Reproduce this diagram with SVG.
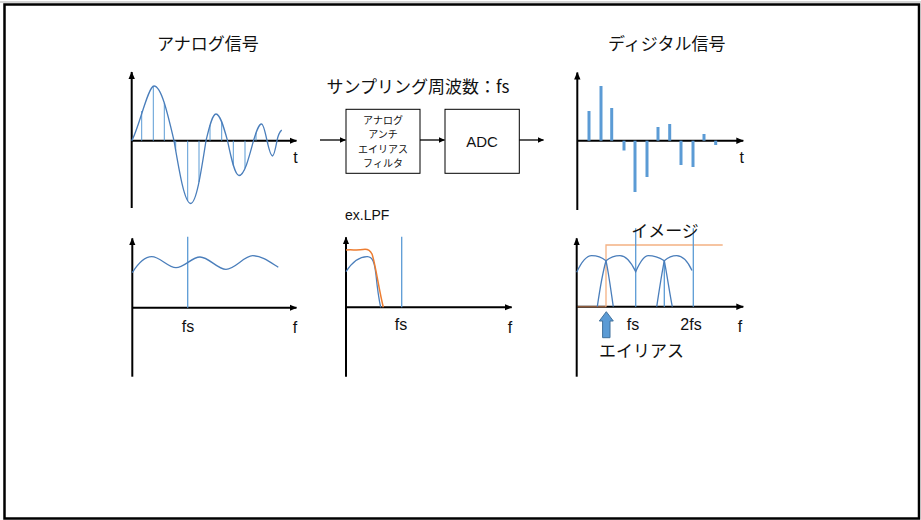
<svg xmlns="http://www.w3.org/2000/svg" width="921" height="520" viewBox="0 0 921 520">
<style>
.jp{font-family:"Noto Sans CJK JP","Noto Sans",sans-serif;fill:#111}
.lt{font-family:"Liberation Sans","Noto Sans",sans-serif;fill:#111}
.ax{stroke:#000;stroke-width:2;fill:none}
.wave{stroke:#4A7EBB;stroke-width:1.3;fill:none}
.samp{stroke:#5B9BD5;stroke-width:1;fill:none}
.bar{stroke:#5B9BD5;stroke-width:3;fill:none}
.vl{stroke:#5B9BD5;stroke-width:1.3;fill:none}
.box{fill:#fff;stroke:#000;stroke-width:1}
.conn{stroke:#000;stroke-width:1.3;fill:none}
</style>
<defs>
<marker id="ah" markerWidth="8" markerHeight="8" refX="7" refY="4" orient="auto" markerUnits="userSpaceOnUse"><path d="M0,0.8 L7.5,4 L0,7.2 z" fill="#000"/></marker>
<marker id="ahs" markerWidth="7" markerHeight="7" refX="6" refY="3.5" orient="auto" markerUnits="userSpaceOnUse"><path d="M0,0.6 L6.5,3.5 L0,6.4 z" fill="#000"/></marker>
</defs>
<rect width="921" height="520" fill="#fff"/>
<line x1="0" y1="2" x2="921" y2="2" stroke="#aaa" stroke-width="1"/>
<rect x="4.5" y="4.5" width="914.5" height="514" fill="none" stroke="#000" stroke-width="2.5"/>

<!-- titles -->
<text class="jp" x="157" y="50" font-size="17">アナログ信号</text>
<text class="jp" x="608" y="50" font-size="17">ディジタル信号</text>
<text class="jp" x="326.5" y="93" font-size="17">サンプリング周波数：fs</text>

<!-- analog signal -->
<g id="analog">
<line class="ax" x1="131.7" y1="208" x2="131.7" y2="72" marker-end="url(#ah)"/>
<line class="ax" x1="131.7" y1="140.7" x2="296.5" y2="140.7" marker-end="url(#ah)"/>
<g class="samp">
<line x1="141.7" y1="140.7" x2="141.7" y2="111"/>
<line x1="153.3" y1="140.7" x2="153.3" y2="86.2"/>
<line x1="164.3" y1="140.7" x2="164.3" y2="103"/>
<line x1="175.7" y1="140.7" x2="175.7" y2="150.7"/>
<line x1="187.7" y1="140.7" x2="187.7" y2="201"/>
<line x1="199" y1="140.7" x2="199" y2="182"/>
<line x1="210" y1="140.7" x2="210" y2="125"/>
<line x1="221.7" y1="140.7" x2="221.7" y2="121.7"/>
<line x1="233.3" y1="140.7" x2="233.3" y2="165.5"/>
<line x1="245" y1="140.7" x2="245" y2="168.4"/>
<line x1="256" y1="140.7" x2="256" y2="132.8"/>
<line x1="267.7" y1="140.7" x2="267.7" y2="143.7"/>
</g>
<path class="wave" d="M131.7,140.7 C139,128 148,86 154,86 C161.2,86 167.3,112.1 174,140.7 C179.6,173.6 184.7,203.5 190.7,203.5 C196.2,203.5 200.9,173.6 206,140.7 C209.3,126.7 212.4,114 216,114 C220.1,114 223.7,126.7 227.5,140.7 C231.3,158.9 234.9,175.5 239,175.5 C244.2,175.5 248.7,158.9 253.5,140.7 C256.2,132 258.6,124 261.5,124 C263.5,124 265.2,132 267,140.7 C268.8,148.7 270.5,156 272.5,156 C274.1,156 275.5,148.7 277,140.7 C278.3,134 280,131.5 281.7,130"/>
<text class="lt" x="295.5" y="163" font-size="16" text-anchor="middle">t</text>
</g>

<!-- digital signal -->
<g id="digital">
<line class="ax" x1="577.3" y1="210" x2="577.3" y2="72.5" marker-end="url(#ah)"/>
<line class="ax" x1="577.3" y1="140.7" x2="743.3" y2="140.7" marker-end="url(#ah)"/>
<g class="bar">
<line x1="589" y1="140.7" x2="589" y2="111"/>
<line x1="601" y1="140.7" x2="601" y2="86"/>
<line x1="611.7" y1="140.7" x2="611.7" y2="108"/>
<line x1="624" y1="140.7" x2="624" y2="150.5"/>
<line x1="635" y1="140.7" x2="635" y2="192"/>
<line x1="647" y1="140.7" x2="647" y2="177"/>
<line x1="658" y1="140.7" x2="658" y2="127"/>
<line x1="669.7" y1="140.7" x2="669.7" y2="124"/>
<line x1="681" y1="140.7" x2="681" y2="165"/>
<line x1="693" y1="140.7" x2="693" y2="167"/>
<line x1="704" y1="140.7" x2="704" y2="134"/>
<line x1="715.7" y1="140.7" x2="715.7" y2="145"/>
</g>
<text class="lt" x="741.7" y="163" font-size="16" text-anchor="middle">t</text>
</g>

<!-- blocks -->
<g id="filter">
<rect class="box" x="346" y="109.3" width="74" height="64"/>
<g class="jp" font-size="10" text-anchor="middle">
<text x="383" y="123.5">アナログ</text>
<text x="383" y="138">アンチ</text>
<text x="383" y="152.5">エイリアス</text>
<text x="383" y="167">フィルタ</text>
</g>
</g>
<g id="adc">
<rect class="box" x="445" y="109.3" width="74.3" height="64"/>
<text class="lt" x="482" y="147" font-size="15" text-anchor="middle">ADC</text>
</g>

<g id="connectors">
<line class="conn" x1="320" y1="140" x2="345.5" y2="140" marker-end="url(#ahs)"/>
<line class="conn" x1="420" y1="140" x2="444.5" y2="140" marker-end="url(#ahs)"/>
<line class="conn" x1="519.3" y1="140" x2="543.5" y2="140" marker-end="url(#ahs)"/>
</g>

<!-- analog spectrum -->
<g id="spectrum-analog">
<line class="ax" x1="132.3" y1="376.7" x2="132.3" y2="238.3" marker-end="url(#ah)"/>
<line class="ax" x1="132.3" y1="307.7" x2="296.5" y2="307.7" marker-end="url(#ah)"/>
<line class="vl" x1="187.7" y1="236.7" x2="187.7" y2="307.7"/>
<path class="wave" d="M132.3,272.7 C139,262 145,256.7 151.7,256.7 C160,256.7 168,267.7 176,267.7 C184,267.7 192,257 200,257 C209,257 217,269.3 226,269.3 C235,269.3 244,255.7 252.7,255.7 C262,255.7 270,262 278.3,267.3"/>
<text class="lt" x="188" y="332" font-size="16" text-anchor="middle">fs</text>
<text class="lt" x="295" y="333" font-size="16" text-anchor="middle">f</text>
</g>

<!-- LPF spectrum -->
<g id="spectrum-lpf">
<text class="lt" x="345" y="220" font-size="14">ex.LPF</text>
<line class="ax" x1="346" y1="376.7" x2="346" y2="237.3" marker-end="url(#ah)"/>
<line class="ax" x1="346" y1="307.3" x2="511.7" y2="307.3" marker-end="url(#ah)"/>
<line class="vl" x1="401.7" y1="236.7" x2="401.7" y2="307.3"/>
<path class="wave" d="M346,271.7 C353,261 361,256.5 367.5,256.7 C372.5,257 374.5,262 376,275 C377.5,290 379.5,302 380.7,307.3"/>
<path d="M346,250 C352,249.5 358,250.5 363,249.5 C367,248.7 370,250 372,254 C375,262 379,290 383.3,307.3" fill="none" stroke="#ED7D31" stroke-width="1.5"/>
<text class="lt" x="401" y="330" font-size="16" text-anchor="middle">fs</text>
<text class="lt" x="510" y="333" font-size="16" text-anchor="middle">f</text>
</g>

<!-- digital spectrum -->
<g id="spectrum-digital">
<line class="ax" x1="576.7" y1="376.7" x2="576.7" y2="238.3" marker-end="url(#ah)"/>
<line class="ax" x1="576.7" y1="306.7" x2="743.3" y2="306.7" marker-end="url(#ah)"/>
<line x1="577.5" y1="306.7" x2="606" y2="306.7" stroke="#8C5A3C" stroke-width="1.5"/>
<polyline points="606,306.7 606,245 722.7,245" fill="none" stroke="#F4B183" stroke-width="1.3"/>
<line class="vl" x1="635.7" y1="228.3" x2="635.7" y2="306.7"/>
<line class="vl" x1="693.3" y1="228.3" x2="693.3" y2="306.7"/>
<line class="vl" x1="664.3" y1="260.7" x2="664.3" y2="306.7"/>
<path class="wave" d="M576.7,272.3 C581,263 586,255.7 591.7,255.7 C597,255.7 602,257.5 606,260.7 C609,275 611.5,295 613.3,306.7"/>
<path class="wave" d="M597.3,306.7 C599,295 602,275 606,260.7 C610,257.5 615,255.7 620,255.7 C626,255.7 631,262 635.7,271.7 C640,262 644,255.7 648.3,255.7 C654,255.7 659,257.5 664.3,260.7 C667,275 670,295 672.3,306.7"/>
<path class="wave" d="M656.7,306.7 C658.5,295 661.5,275 664.3,260.7 C668,257.5 672,255.7 676.7,255.7 C683,255.7 688,262 692,270.5"/>
<polygon points="606.3,311.7 613.3,321 610,321 610,337.7 602.6,337.7 602.6,321 599.3,321" fill="#5B9BD5" stroke="#41719C" stroke-width="1"/>
<text class="jp" x="665" y="236.5" font-size="17" text-anchor="middle">イメージ</text>
<text class="lt" x="633" y="330" font-size="16" text-anchor="middle">fs</text>
<text class="lt" x="691" y="330" font-size="16" text-anchor="middle">2fs</text>
<text class="lt" x="740" y="332" font-size="16" text-anchor="middle">f</text>
<text class="jp" x="599" y="357" font-size="17">エイリアス</text>
</g>
</svg>
